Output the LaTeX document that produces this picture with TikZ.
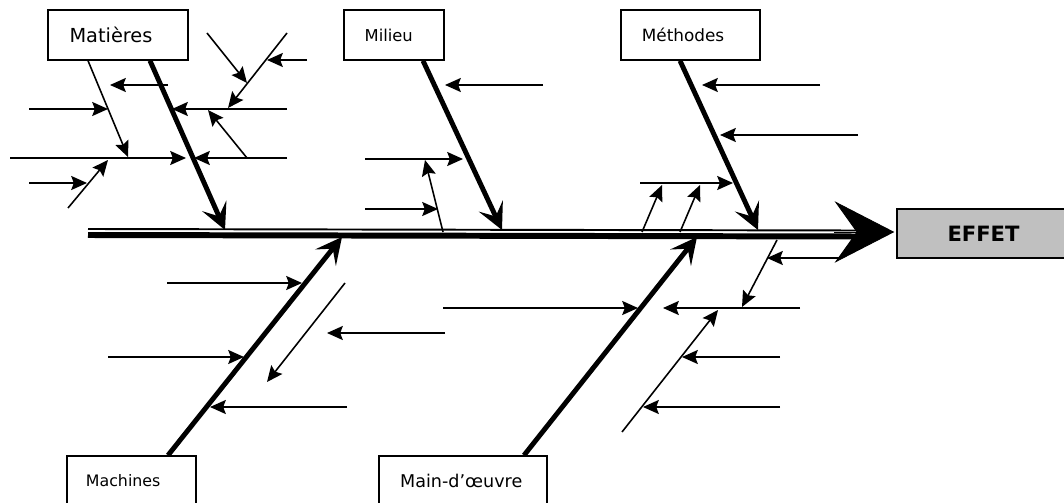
\documentclass[tikz,border=0pt]{standalone}
\usepackage{fontspec}
\setmainfont{DejaVu Sans}
\usetikzlibrary{arrows.meta}
\usetikzlibrary{calc}
\definecolor{effetgray}{RGB}{192,192,192}

\begin{document}
\begin{tikzpicture}[x=0.02cm, y=-0.02cm,
  box/.style={draw, line width=0.8pt, minimum height=1cm, inner sep=0pt},
  bone/.style={line width=2.8pt, -{Stealth[length=15pt,width=15pt,inset=6.5pt]}},
  twig/.style={line width=0.9pt, -{Stealth[length=9pt,width=8pt,inset=1.5pt]}}]
  \useasboundingbox (0.00, 0.00) rectangle (1064.00, 503.00);
  \clip (0.00, 0.00) rectangle (1064.00, 503.00);
  \node[box, minimum width=2.8cm] (matb) at (118.00, 35.00) {\fontsize{11}{13}\selectfont Matières\kern8pt};
  \node[box, minimum width=2cm] (milb) at (394.00, 35.00) {\fontsize{9.3}{11}\selectfont Milieu\kern6pt};
  \node[box, minimum width=2.78cm] (metb) at (690.50, 35.00) {\fontsize{9.6}{11}\selectfont Méthodes\kern8.5pt};
  \node[box, minimum width=2.58cm] (macb) at (131.50, 481.00) {\fontsize{9}{11}\selectfont Machines\kern9.5pt};
  \node[box, minimum width=3.36cm] (mdob) at (463.00, 481.00) {\fontsize{10}{12}\selectfont Main-d’œuvre\kern2pt};
  \node[box, fill=effetgray, minimum width=3.46cm, minimum height=0.98cm] (effet) at (983.50, 233.50) {\fontsize{12}{14}\selectfont\bfseries EFFET};
  \coordinate (tail) at (88.00, 232.00);
  \coordinate (m1) at (225.00, 230.00);
  \coordinate (m2) at (502.00, 230.00);
  \coordinate (m3) at (758.00, 230.00);
  \coordinate (m4) at (342.00, 237.00);
  \coordinate (m5) at (697.00, 237.00);
  \draw[line width=3.4pt] ($(tail)+(0,3)$) to ($(effet.west)+(-38,3)$);
  \draw[line width=1.1pt] ($(tail)+(0,-3)$) to ($(effet.west)+(-38,-3)$);
  \draw[line width=0.5pt, -{Stealth[length=34pt,width=35pt,inset=12.5pt]}] ($(effet.west)+(-62,-1.5)$) to ($(effet.west)+(-2,-1.5)$);
  \draw[bone] ([xshift=0.64cm]matb.south) to (m1);
  \draw[bone] ([xshift=0.58cm]milb.south) to (m2);
  \draw[bone] ([xshift=-0.21cm]metb.south) to (m3);
  \draw[bone] ([xshift=0.73cm]macb.north) to (m4);
  \draw[bone] ([xshift=1.22cm]mdob.north) to (m5);
  \draw[twig] ([xshift=-0.6cm]matb.south) to (128.00, 157.00);
  \draw[twig] (168.00, 85.00) to (110.00, 85.00);
  \draw[twig] (29.00, 109.00) to (108.00, 109.00);
  \draw[twig] (287.00, 109.00) to (172.00, 109.00);
  \draw[twig] (287.00, 33.00) to (228.00, 108.00);
  \draw[twig] (207.00, 33.00) to (247.00, 83.00);
  \draw[twig] (307.00, 60.00) to (267.00, 60.00);
  \draw[twig] (247.00, 158.00) to (208.00, 110.00);
  \draw[twig] (10.00, 158.00) to (186.00, 158.00);
  \draw[twig] (287.00, 158.00) to (194.00, 158.00);
  \draw[twig] (29.00, 183.00) to (87.00, 183.00);
  \draw[twig] (68.00, 208.00) to (108.00, 160.00);
  \draw[twig] (543.00, 85.00) to (445.00, 85.00);
  \draw[twig] (365.00, 159.00) to (463.00, 159.00);
  \draw[twig] (443.00, 232.00) to (425.00, 160.00);
  \draw[twig] (365.00, 209.00) to (438.00, 209.00);
  \draw[twig] (820.00, 85.00) to (702.00, 85.00);
  \draw[twig] (858.00, 135.00) to (720.00, 135.00);
  \draw[twig] (640.00, 183.00) to (733.00, 183.00);
  \draw[twig] (642.00, 232.00) to (662.00, 185.00);
  \draw[twig] (680.00, 232.00) to (700.00, 185.00);
  \draw[twig] (167.00, 283.00) to (302.00, 283.00);
  \draw[twig] (108.00, 357.00) to (244.00, 357.00);
  \draw[twig] (347.00, 407.00) to (210.00, 407.00);
  \draw[twig] (345.00, 283.00) to (267.00, 382.00);
  \draw[twig] (445.00, 333.00) to (327.00, 333.00);
  \draw[twig] (443.00, 308.00) to (638.00, 308.00);
  \draw[twig] (800.00, 308.00) to (663.00, 308.00);
  \draw[twig] (777.00, 240.00) to (742.00, 307.00);
  \draw[twig] (840.00, 258.00) to (767.00, 258.00);
  \draw[twig] (622.00, 432.00) to (718.00, 310.00);
  \draw[twig] (780.00, 357.00) to (682.00, 357.00);
  \draw[twig] (780.00, 407.00) to (643.00, 407.00);
\end{tikzpicture}
\end{document}
